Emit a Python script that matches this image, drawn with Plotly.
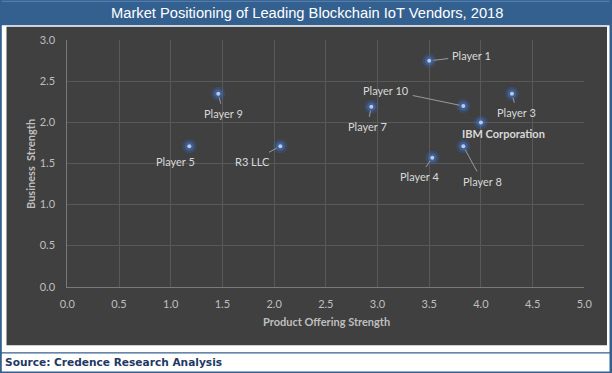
import plotly.graph_objects as go

# ---- data ----
vendors = ["Player 1", "Player 10", "Player 3", "Player 7", "IBM Corporation",
           "Player 8", "Player 4", "Player 9", "Player 5", "R3 LLC"]
product_offering = [3.50, 3.83, 4.30, 2.94, 4.00, 3.83, 3.53, 1.46, 1.18, 2.06]
business_strength = [2.75, 2.20, 2.35, 2.19, 2.00, 1.71, 1.57, 2.35, 1.71, 1.71]
x_ticks = [0.0, 0.5, 1.0, 1.5, 2.0, 2.5, 3.0, 3.5, 4.0, 4.5, 5.0]
y_ticks = [0.0, 0.5, 1.0, 1.5, 2.0, 2.5, 3.0]

title_text = "Market Positioning of Leading Blockchain IoT Vendors, 2018"
x_title = "Product Offering Strength"
y_title = "Business  Strength"
source_text = "Source: Credence Research Analysis"

# ---- label placement (pixel offsets of label centre from point) ----
label_offsets = {
    "Player 1": (42, -5, True),
    "Player 10": (-77, -16, True),
    "Player 3": (5, 19, True),
    "Player 7": (-4, 20, True),
    "IBM Corporation": (23, 11, False),
    "Player 8": (19, 35, True),
    "Player 4": (-13, 19, True),
    "Player 9": (5, 20, True),
    "Player 5": (-14, 15, False),
    "R3 LLC": (-28, 15, True),
}

W, H = 612, 373
def px(x):
    return x / W
def py(y):
    return 1 - y / H

PLOT_L, PLOT_R, PLOT_T, PLOT_B = 67.3, 584.3, 40.3, 286.7

BLUE = "#34608f"
DARK = "#404040"
GRID = "#595959"
AXIS = "#7a7a7a"
TICKC = "#bfbfbf"
LABELC = "#d9d9d9"
FONT = "Lato, Calibri, sans-serif"

fig = go.Figure()

# glow layers
fig.add_trace(go.Scatter(x=product_offering, y=business_strength, mode="markers",
                         marker=dict(size=14, color="rgba(55,100,175,0.30)", line=dict(width=0)),
                         hoverinfo="skip", showlegend=False))
fig.add_trace(go.Scatter(x=product_offering, y=business_strength, mode="markers",
                         marker=dict(size=9, color="rgba(70,120,200,0.45)", line=dict(width=0)),
                         hoverinfo="skip", showlegend=False))
fig.add_trace(go.Scatter(x=product_offering, y=business_strength, mode="markers",
                         marker=dict(size=4, color="#b4cbee", line=dict(width=0)),
                         hoverinfo="skip", showlegend=False))

annotations = []
for name, xv, yv in zip(vendors, product_offering, business_strength):
    ax, ay, line = label_offsets[name]
    bold = name == "IBM Corporation"
    annotations.append(dict(
        x=xv, y=yv, xref="x", yref="y", ax=ax, ay=ay,
        text=f"<b>{name}</b>" if bold else name,
        showarrow=True, arrowhead=0, arrowwidth=1,
        arrowcolor="#9a9a9a" if line else "rgba(0,0,0,0)",
        standoff=4, startstandoff=2,
        font=dict(family=FONT, size=11, color=LABELC),
    ))

# title
annotations.append(dict(x=px(307), y=py(13), xref="paper", yref="paper",
                        text=title_text, showarrow=False, xanchor="center", yanchor="middle",
                        font=dict(family="Liberation Sans, Arial, sans-serif", size=14.7, color="white")))
# axis titles
annotations.append(dict(x=px(326), y=py(321), xref="paper", yref="paper",
                        text=f"<b>{x_title}</b>", showarrow=False, xanchor="center", yanchor="middle",
                        font=dict(family=FONT, size=11, color=TICKC)))
annotations.append(dict(x=px(30), y=py(164), xref="paper", yref="paper",
                        text=f"<b>{y_title}</b>", showarrow=False, xanchor="center", yanchor="middle",
                        textangle=-90,
                        font=dict(family=FONT, size=11, color=TICKC)))
# source
annotations.append(dict(x=px(3), y=py(361.5), xref="paper", yref="paper",
                        text=f"<b>{source_text}</b>", showarrow=False, xanchor="left", yanchor="middle",
                        font=dict(family="DejaVu Sans, Verdana, sans-serif", size=10.6, color="#1f3864")))

shapes = [
    # title bar
    dict(type="rect", xref="paper", yref="paper", x0=px(0), x1=px(612), y0=py(0), y1=py(25.3),
         fillcolor=BLUE, line=dict(width=0), layer="below"),
    dict(type="line", xref="paper", yref="paper", x0=px(0), x1=px(612), y0=py(1.3), y1=py(1.3),
         line=dict(color="#5b85b5", width=1), layer="below"),
    # dark chart panel
    dict(type="rect", xref="paper", yref="paper", x0=px(6.5), x1=px(607), y0=py(26.7), y1=py(345.3),
         fillcolor=DARK, line=dict(width=0), layer="below"),
    # left / right borders
    dict(type="rect", xref="paper", yref="paper", x0=px(0), x1=px(1.8), y0=py(0), y1=py(373),
         fillcolor=BLUE, line=dict(width=0), layer="below"),
    dict(type="rect", xref="paper", yref="paper", x0=px(609.5), x1=px(612), y0=py(0), y1=py(373),
         fillcolor=BLUE, line=dict(width=0), layer="below"),
    # separator above source + bottom border
    dict(type="rect", xref="paper", yref="paper", x0=px(0), x1=px(612), y0=py(352.3), y1=py(353.6),
         fillcolor=BLUE, line=dict(width=0), layer="below"),
    dict(type="rect", xref="paper", yref="paper", x0=px(0), x1=px(612), y0=py(371.6), y1=py(373),
         fillcolor=BLUE, line=dict(width=0), layer="below"),
]

axis_common = dict(
    showgrid=True, gridcolor=GRID, gridwidth=1,
    zeroline=False, showline=True, linecolor=AXIS, linewidth=1,
    ticks="", tickfont=dict(family=FONT, size=11, color=TICKC),
    automargin=False, fixedrange=True,
)

fig.update_layout(
    width=W, height=H, autosize=False,
    margin=dict(l=0, r=0, t=0, b=0, pad=0),
    paper_bgcolor="white", plot_bgcolor=DARK,
    showlegend=False,
    xaxis=dict(domain=[px(PLOT_L), px(PLOT_R)], range=[0, 5], tickvals=x_ticks,
               ticktext=[f"{v:.1f}" for v in x_ticks], ticklabelstandoff=7, **axis_common),
    yaxis=dict(domain=[py(PLOT_B), py(PLOT_T)], range=[0, 3], tickvals=y_ticks,
               ticktext=[f"{v:.1f}" for v in y_ticks], ticklabelstandoff=9, **axis_common),
    annotations=annotations,
    shapes=shapes,
)

fig.write_html(
    "out.html",
    config={"displayModeBar": False},
    post_script="document.body.style.margin='0';document.body.style.overflow='hidden';",
)
